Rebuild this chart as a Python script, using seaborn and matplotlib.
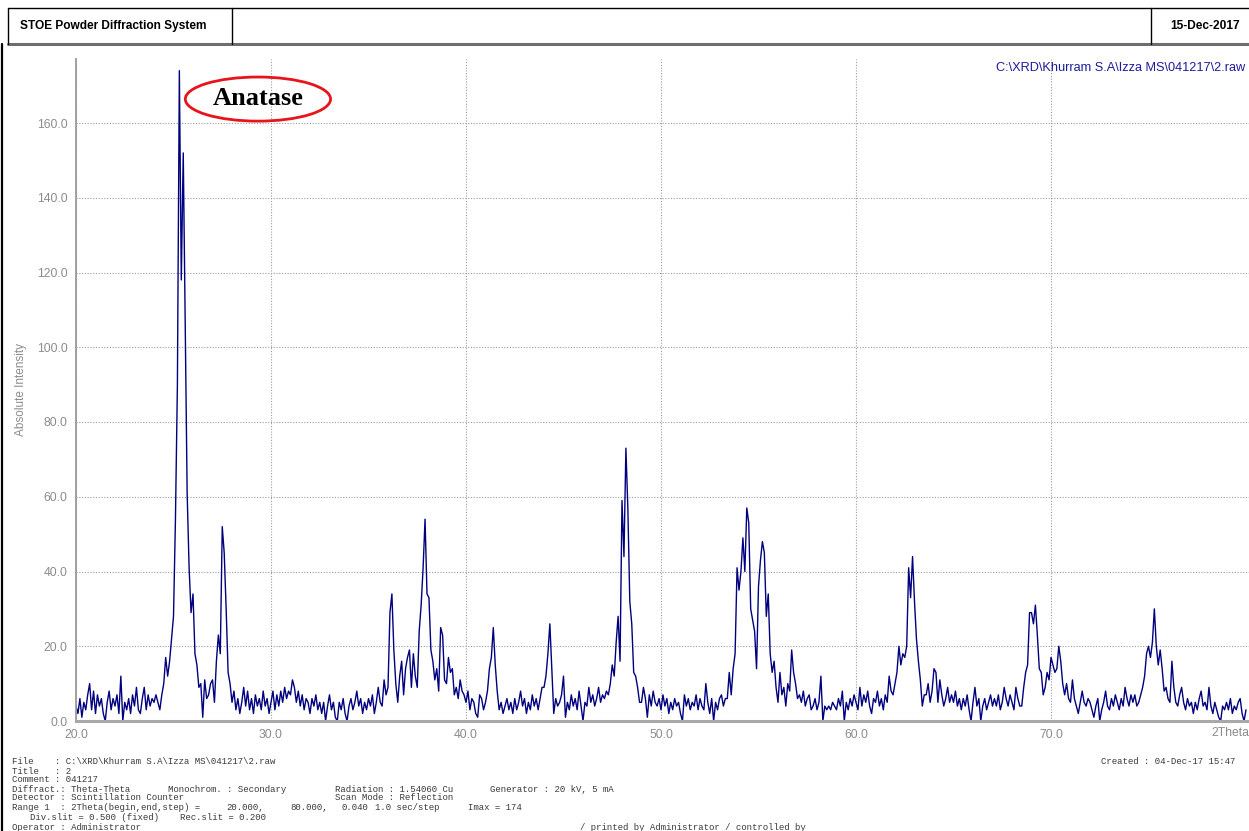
import numpy as np
import pandas as pd
import matplotlib
matplotlib.use("Agg")
import matplotlib.pyplot as plt
from matplotlib.patches import Ellipse
from matplotlib.lines import Line2D
from matplotlib.ticker import MultipleLocator, FixedLocator
import seaborn as sns

# ---- scan: 2Theta 20..80, counts read every 0.1 deg ----
two_theta = np.linspace(20.0, 80.0, 601)
intensity = [
    4, 2, 6, 1, 5, 3, 7, 10, 3, 8,          # 20
    2, 7, 4, 6, 2, 0, 5, 8, 3, 6,           # 21
    4, 7, 2, 12, 0, 5, 3, 6, 2, 7,          # 22
    4, 9, 3, 2, 6, 9, 3, 7, 4, 6,           # 23
    5, 7, 5, 3, 7, 10, 17, 12, 16, 22,      # 24
    28, 54, 90, 174, 118, 152, 107, 61, 41, 29,  # 25
    34, 18, 15, 9, 10, 1, 11, 6, 7, 10,     # 26
    11, 5, 16, 23, 18, 52, 45, 30, 13, 10,  # 27
    5, 8, 3, 6, 2, 5, 9, 4, 8, 3,           # 28
    6, 2, 7, 4, 6, 3, 8, 4, 6, 2,           # 29
    5, 8, 3, 7, 4, 8, 5, 9, 6, 8,           # 30
    7, 11, 9, 5, 8, 4, 7, 3, 6, 5,          # 31
    2, 6, 4, 7, 3, 5, 2, 5, 0, 4,           # 32
    7, 3, 5, 1, 0, 5, 3, 6, 2, 0,           # 33
    4, 6, 3, 5, 8, 4, 6, 2, 5, 3,           # 34
    6, 4, 7, 2, 5, 9, 5, 4, 11, 7,          # 35
    9, 29, 34, 19, 10, 5, 12, 16, 7, 14,    # 36
    17, 19, 9, 18, 12, 9, 24, 31, 41, 54,   # 37
    34, 33, 19, 16, 11, 14, 8, 25, 23, 11,  # 38
    10, 17, 13, 14, 7, 9, 6, 11, 8, 7,      # 39
    5, 8, 3, 6, 5, 2, 1, 7, 6, 3,           # 40
    5, 8, 14, 17, 25, 15, 8, 3, 5, 2,       # 41
    4, 6, 3, 5, 2, 6, 3, 5, 8, 4,           # 42
    6, 2, 5, 3, 7, 4, 6, 3, 6, 9,           # 43
    9, 12, 18, 26, 14, 2, 6, 4, 5, 7,       # 44
    12, 1, 5, 3, 7, 4, 6, 3, 8, 4,          # 45
    0, 5, 4, 9, 5, 7, 4, 6, 9, 5,           # 46
    7, 6, 8, 7, 10, 15, 12, 21, 28, 16,     # 47
    59, 44, 73, 57, 32, 26, 13, 12, 9, 5,   # 48
    5, 9, 6, 1, 7, 4, 8, 5, 4, 6,           # 49
    3, 7, 4, 6, 2, 5, 3, 6, 4, 5,           # 50
    2, 0, 7, 4, 6, 3, 5, 4, 7, 3,           # 51
    6, 4, 3, 10, 5, 2, 6, 0, 5, 3,          # 52
    6, 7, 4, 6, 6, 13, 7, 14, 18, 41,       # 53
    35, 40, 49, 40, 57, 53, 30, 27, 24, 14, # 54
    36, 43, 48, 45, 28, 34, 18, 13, 16, 9,  # 55
    5, 13, 7, 9, 4, 10, 8, 19, 13, 10,      # 56
    6, 7, 5, 8, 4, 6, 7, 3, 4, 6,           # 57
    3, 5, 12, 0, 4, 3, 4, 3, 5, 4,          # 58
    3, 6, 4, 8, 0, 5, 3, 6, 4, 7,           # 59
    5, 3, 9, 4, 7, 5, 8, 4, 2, 6,           # 60
    5, 8, 4, 6, 3, 7, 5, 12, 8, 7,          # 61
    10, 13, 20, 15, 18, 17, 20, 41, 33, 44, # 62
    32, 22, 16, 11, 4, 7, 7, 10, 5, 8,      # 63
    14, 13, 5, 11, 7, 4, 6, 9, 5, 7,        # 64
    5, 8, 4, 6, 3, 6, 4, 7, 3, 0,           # 65
    5, 9, 4, 6, 0, 4, 6, 3, 5, 7,           # 66
    4, 6, 4, 7, 3, 5, 9, 6, 4, 7,           # 67
    5, 3, 9, 6, 4, 4, 9, 13, 15, 29,        # 68
    29, 26, 31, 23, 14, 13, 7, 9, 13, 11,   # 69
    17, 15, 13, 14, 20, 16, 10, 7, 10, 6,   # 70
    5, 11, 6, 4, 2, 5, 8, 5, 4, 6,          # 71
    5, 3, 1, 4, 6, 0, 3, 5, 8, 4,           # 72
    3, 6, 4, 7, 5, 3, 6, 4, 9, 6,           # 73
    4, 7, 5, 7, 4, 5, 7, 9, 12, 18,         # 74
    20, 17, 21, 30, 20, 15, 19, 14, 8, 9,   # 75
    6, 5, 16, 9, 5, 4, 7, 9, 5, 3,          # 76
    6, 4, 5, 2, 5, 3, 6, 8, 4, 5,           # 77
    3, 9, 4, 2, 5, 3, 1, 0, 4, 3,           # 78
    5, 3, 6, 2, 4, 3, 5, 6, 2, 0,           # 79
    3,                                      # 80
]

y_ticks = [0, 20, 40, 60, 80, 100, 120, 140, 160]
x_ticks = [20, 30, 40, 50, 60, 70]
x_tick_labels = ["20.0", "30.0", "40.0", "50.0", "60.0", "70.0"]

file_path = "C:\\XRD\\Khurram S.A\\Izza MS\\041217\\2.raw"

df = pd.DataFrame({"two_theta": two_theta, "intensity": intensity})

sns.set_style("white")
plt.rcParams["font.family"] = ["Liberation Sans", "DejaVu Sans"]

W, H = 1249, 831
fig = plt.figure(figsize=(W / 100, H / 100), dpi=100)


def fx(x):
    return x / W


def fy(y):
    return 1 - y / H


# plotting area: 20 deg at x=76 px, 19.5 px per degree; 0 counts at y=721 px
ax = fig.add_axes([fx(76), fy(721), fx(1249 - 76), (721 - 59) / H])
sns.lineplot(data=df, x="two_theta", y="intensity", color="#00007f",
             linewidth=1.0, ax=ax, legend=False)
ax.set_xlim(20, 20 + (1249 - 76) / 19.5)
ax.set_ylim(0, (721 - 59) / 3.7375)

grey = "#8c8c8c"
ax.xaxis.set_major_locator(FixedLocator(x_ticks))
ax.set_xticklabels(x_tick_labels)
ax.xaxis.set_minor_locator(MultipleLocator(2))
ax.yaxis.set_major_locator(FixedLocator(y_ticks))
ax.set_yticklabels([f"{v:.1f}" for v in y_ticks])
ax.yaxis.set_minor_locator(MultipleLocator(4))
ax.tick_params(axis="both", which="both", direction="out", color="#8a8a8a",
               labelcolor=grey, labelsize=8.8, width=1.0)
ax.tick_params(axis="both", which="major", length=4, pad=2)
ax.tick_params(axis="both", which="minor", length=3)
ax.set_xlabel("")
ax.set_ylabel("")

for side in ("top", "right"):
    ax.spines[side].set_visible(False)
ax.spines["left"].set_color("#9a9a9a")
ax.spines["left"].set_linewidth(1.3)
ax.spines["bottom"].set_color("#a8a8a8")
ax.spines["bottom"].set_linewidth(2.2)

ax.grid(True, which="major", color="#9c9c9c", linewidth=0.8,
        linestyle=(0, (1, 1.5)))
ax.set_axisbelow(True)

fig.text(fx(21), fy(390), "Absolute Intensity", rotation=90, ha="center",
         va="center", color=grey, fontsize=8.5)
fig.text(fx(1211), fy(733), "2Theta", ha="left", va="center", color=grey,
         fontsize=8.8)
fig.text(fx(1245), fy(68), file_path, ha="right", va="center",
         color="#1c1c9c", fontsize=9.2)

# phase label
ax.add_patch(Ellipse((29.33, 166.4), width=7.45, height=11.8, fill=False,
                     edgecolor="#e8141b", linewidth=2.0, clip_on=False))
ax.text(29.33, 166.6, "Anatase", ha="center", va="center",
        fontfamily="Liberation Serif", fontweight="bold", fontsize=19,
        color="black")

# header frame
def hline(x0, x1, y, **kw):
    fig.add_artist(Line2D([fx(x0), fx(x1)], [fy(y), fy(y)], **kw))


def vline(x, y0, y1, **kw):
    fig.add_artist(Line2D([fx(x), fx(x)], [fy(y0), fy(y1)], **kw))


hline(8, 1249, 8, color="black", linewidth=1.0)
hline(8, 1249, 44, color="#6e6e6e", linewidth=2.2)
vline(8, 8, 44, color="black", linewidth=1.0)
vline(232, 8, 44, color="black", linewidth=1.0)
vline(1151, 8, 44, color="black", linewidth=1.0)
vline(2, 44, 831, color="black", linewidth=1.6)

fig.text(fx(20), fy(26), "STOE Powder Diffraction System", ha="left",
         va="center", fontsize=8.6, fontweight="bold", color="black")
fig.text(fx(1240), fy(26), "15-Dec-2017", ha="right", va="center",
         fontsize=8.6, fontweight="bold", color="black")

# measurement footer
mono = dict(fontfamily="Liberation Mono", fontsize=6.5, color="#3a3a3a",
            va="center", ha="left")
footer = [
    (12, 762, "File    : " + file_path),
    (1101, 762, "Created : 04-Dec-17 15:47"),
    (12, 771, "Title   : 2"),
    (12, 780, "Comment : 041217"),
    (12, 789, "Diffract.: Theta-Theta"),
    (168, 789, "Monochrom. : Secondary"),
    (335, 789, "Radiation : 1.54060 Cu"),
    (490, 789, "Generator : 20 kV, 5 mA"),
    (12, 798, "Detector : Scintillation Counter"),
    (335, 798, "Scan Mode : Reflection"),
    (12, 807, "Range 1  : 2Theta(begin,end,step) ="),
    (226, 807, "20.000,"),
    (290, 807, "80.000,"),
    (342, 807, "0.040"),
    (375, 807, "1.0 sec/step"),
    (468, 807, "Imax = 174"),
    (30, 817, "Div.slit = 0.500 (fixed)"),
    (180, 817, "Rec.slit = 0.200"),
    (12, 827, "Operator : Administrator"),
    (580, 827, "/ printed by Administrator / controlled by"),
]
for x, y, s in footer:
    fig.text(fx(x), fy(y), s, **mono)

fig.savefig("out.png", dpi=100)
